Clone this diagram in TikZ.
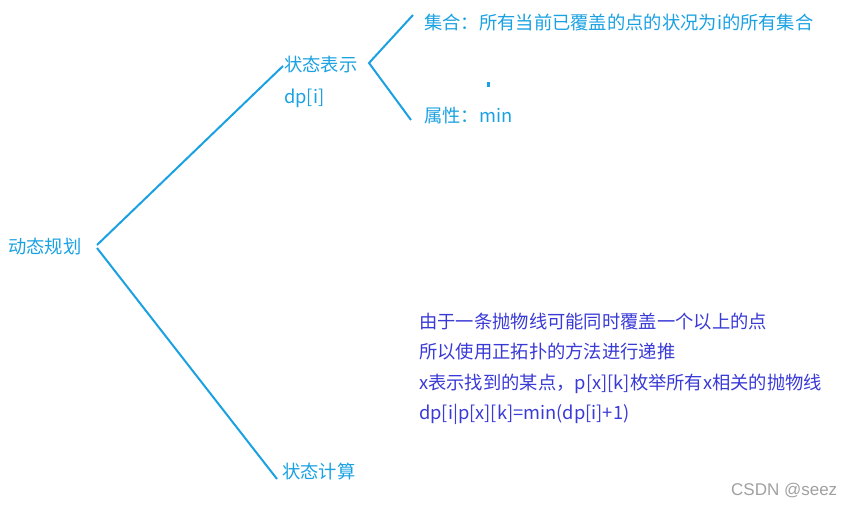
\documentclass[tikz,border=0pt]{standalone}
\usepackage{fontspec}
\setmainfont{Noto Sans CJK SC}
\newfontfamily\markfont{Liberation Sans}
\usepackage{xcolor}
\usetikzlibrary{positioning}

\definecolor{mapblue}{HTML}{1BA1E2}
\definecolor{noteblue}{HTML}{3A3AD6}
\definecolor{markgray}{HTML}{A0A0A0}

\begin{document}
\begin{tikzpicture}[x=1pt, y=-1pt,
  lbl/.style={anchor=base west, inner sep=0pt, text=mapblue,
              font=\fontsize{18.3}{21}\selectfont},
  note/.style={anchor=base west, inner sep=0pt, text=noteblue,
               font=\fontsize{18.3}{21}\selectfont},
  branch/.style={draw=mapblue, line width=2pt}]
  \useasboundingbox (0,0) rectangle (859,506);
  % texts
  \node[lbl] (dp) at (8,253) {动态规划};
  \node[lbl] (rep) at (284,71) {状态表示};
  \node[lbl] (rep2) at (284,103) {dp[i]};
  \node[lbl] (set) at (424,29) {集合：所有当前已覆盖的点的状况为i的所有集合};
  \node[lbl] (attr) at (424,122) {属性：min};
  \node[lbl] (calc) at (282,478) {状态计算};
  \node[note] (n1) at (419,328) {由于一条抛物线可能同时覆盖一个以上的点};
  \node[note] (n2) at (419,358.5) {所以使用正拓扑的方法进行递推};
  \node[note] (n3) at (419,389) {x表示找到的某点，p[x][k]枚举所有x相关的抛物线};
  \node[note] (n4) at (419,419.5) {dp[i|p[x][k]=min(dp[i]+1)};
  \node[anchor=base west, inner sep=0pt, text=markgray,
        font=\markfont\fontsize{17}{20}\selectfont] (mark) at (731,495) {CSDN @seez};
  % brace points
  \coordinate (v1) at (97,245);
  \coordinate (v1b) at (97,248);
  \coordinate (e1) at (283,66);
  \coordinate (e2) at (277,479);
  \coordinate (v2) at (369,63);
  \coordinate (e3) at (413,15);
  \coordinate (e4) at (411,120);
  \draw[branch] (v1) -- (e1);
  \draw[branch] (v1b) -- (e2);
  \draw[branch] (e3) -- (v2) -- (e4);
  \fill[mapblue] (487,82) rectangle (489.5,87);
\end{tikzpicture}
\end{document}
